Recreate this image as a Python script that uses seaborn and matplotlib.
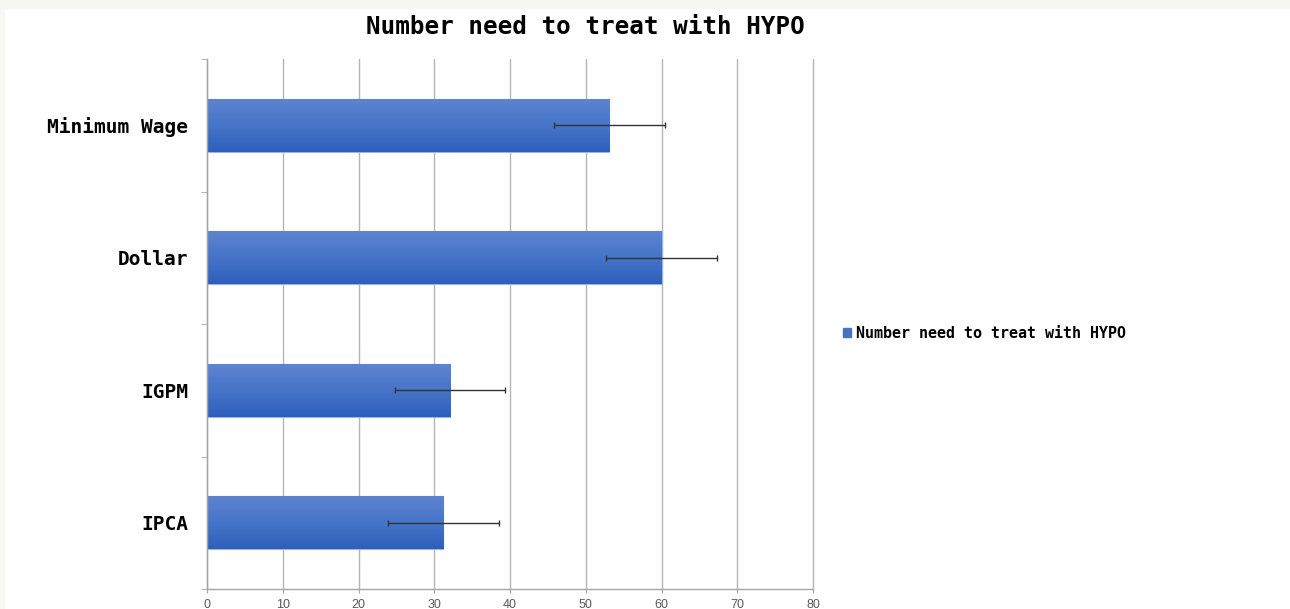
import numpy as np
import pandas as pd
import seaborn as sns
import matplotlib.pyplot as plt
from matplotlib.colors import LinearSegmentedColormap
from matplotlib.patches import Rectangle

# data
categories = ['Minimum Wage', 'Dollar', 'IGPM', 'IPCA']
nnt_values = [53.1, 60.0, 32.1, 31.2]
nnt_errors = [7.3, 7.3, 7.3, 7.3]
x_ticks = [0, 10, 20, 30, 40, 50, 60, 70, 80]
series_name = 'Number need to treat with HYPO'
title = 'Number need to treat with HYPO'

df = pd.DataFrame({'category': categories, 'nnt': nnt_values})

sns.set_style('white')
plt.rcParams['font.family'] = ['DejaVu Sans Mono', 'DejaVu Sans']
plt.rcParams['text.color'] = 'black'
plt.rcParams['ytick.labelcolor'] = 'black'

W, H = 1290, 609
fig = plt.figure(figsize=(W / 100, H / 100), dpi=100)
fig.patch.set_facecolor('white')

# light frame strips at top / left of the screenshot
fig.patches.append(Rectangle((0, 1 - 8 / H), 1, 8 / H, transform=fig.transFigure,
                             color='#f7f7f3', zorder=0))
fig.patches.append(Rectangle((0, 0), 4 / W, 1, transform=fig.transFigure,
                             color='#f7f7f3', zorder=0))

ax = fig.add_axes([207 / W, 1 - 589 / H, (813 - 207) / W, (589 - 59) / H])

sns.barplot(data=df, y='category', x='nnt', orient='h', color='#4472c4',
            width=0.4, errorbar=None, ax=ax)

# vertical gradient inside each bar (light on top, darker at bottom)
grad_cmap = LinearSegmentedColormap.from_list('bar', ['#5d84d2', '#4674c8', '#2e5fbb'])
grad = np.linspace(0, 1, 64).reshape(-1, 1)
for p in ax.patches:
    x0, y0 = p.get_x(), p.get_y()
    w, h = p.get_width(), p.get_height()
    im = ax.imshow(grad, cmap=grad_cmap, aspect='auto', origin='upper',
                   extent=(x0, x0 + w, y0 + h, y0), zorder=2)
    im.set_clip_path(p)
    p.set_edgecolor('#9db4e2')
    p.set_linewidth(0.8)

ax.errorbar(nnt_values, np.arange(len(categories)), xerr=nnt_errors, fmt='none',
            ecolor='#333333', elinewidth=1, capsize=2.5, capthick=1, zorder=4)

ax.set_xlim(0, 80)
ax.set_ylim(len(categories) - 0.5, -0.5)
ax.set_xticks(x_ticks)
ax.set_xlabel('')
ax.set_ylabel('')

ax.grid(axis='x', color='#b5b5b5', linewidth=1)
for gl in ax.get_xgridlines():
    gl.set_clip_on(False)
ax.set_axisbelow(True)
for s in ['top', 'right']:
    ax.spines[s].set_visible(False)
for s in ['left', 'bottom']:
    ax.spines[s].set_color('#a6a6a6')
    ax.spines[s].set_linewidth(1)

ax.tick_params(axis='x', length=3, color='#a6a6a6', pad=4, labelsize=9,
               labelcolor='#595959', bottom=True)
for lab in ax.get_xticklabels():
    lab.set_family('Liberation Sans')
ax.set_yticks(np.arange(len(categories)))
ax.set_yticklabels(categories, fontsize=14, fontweight='bold', color='black')
ax.tick_params(axis='y', length=0, pad=13.5)
ax.set_yticks(np.arange(-0.5, len(categories), 1), minor=True)
ax.tick_params(axis='y', which='minor', length=4.5, color='#a6a6a6', left=True)

fig.text(585 / W, 1 - 27 / H, title, ha='center', va='center',
         fontsize=17.5, fontweight='bold', color='black')

handle = Rectangle((0, 0), 1, 1, color='#4472c4')
fig.legend([handle], [series_name], loc='center left',
           bbox_to_anchor=(843 / W, 1 - 333 / H), frameon=False,
           handlelength=0.55, handleheight=0.55, handletextpad=0.3,
           borderpad=0, borderaxespad=0, labelcolor='black',
           prop={'family': 'DejaVu Sans Mono', 'weight': 'bold', 'size': 10.8})

fig.savefig('out.png', dpi=100)
